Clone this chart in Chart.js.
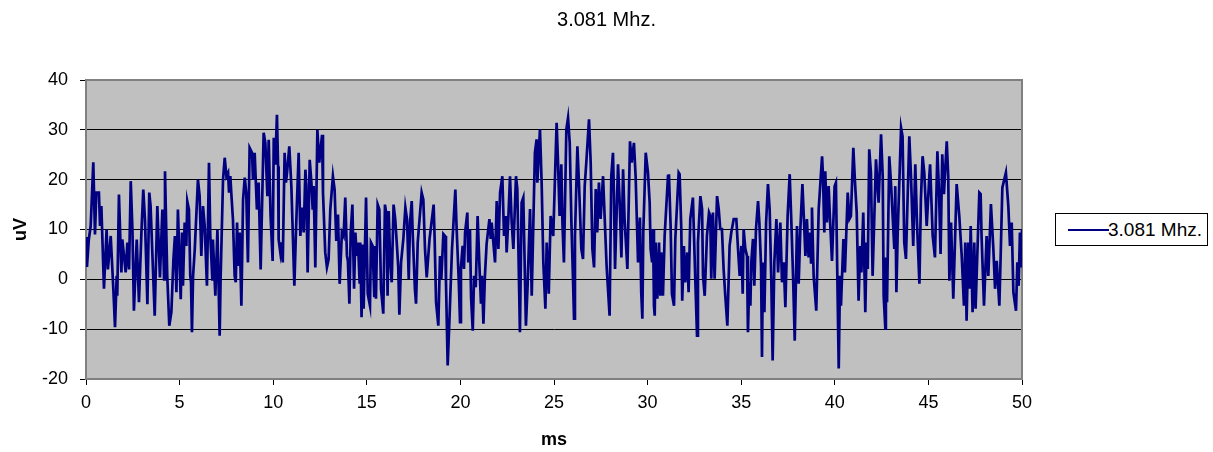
<!DOCTYPE html>
<html>
<head>
<meta charset="utf-8">
<title>3.081 Mhz.</title>
<script src="https://cdn.jsdelivr.net/npm/chart.js@4.4.0/dist/chart.umd.min.js"></script>
<style>
  body { margin: 0; background: #fff; }
  #wrap { position: relative; width: 1213px; height: 452px; font-family: "Liberation Sans", Arial, sans-serif; color: #000; }
  #title { position: absolute; left: 0; top: 8px; width: 1213px; text-align: center; font-size: 20px; }
  #legend { position: absolute; left: 1055px; top: 213px; width: 153px; height: 33px; box-sizing: border-box;
            border: 1px solid #000; background: #fff; font-size: 19px; }
  #legend .swatch { position: absolute; left: 12px; top: 15px; width: 41px; height: 0; border-top: 2.5px solid #000080; }
  #legend .label { position: absolute; left: 52px; top: 5px; white-space: nowrap; }
</style>
</head>
<body>
<div id="wrap">
  <canvas id="chart" width="1213" height="452"></canvas>
  <div id="title">3.081 Mhz.</div>
  <div id="legend"><span class="swatch"></span><span class="label">3.081 Mhz.</span></div>
</div>
<script>
// time axis (ms)
const timeMs = [
  0, 0.05, 0.15, 0.25, 0.39, 0.48, 0.55, 0.69, 0.75, 0.82, 0.96, 1.10, 1.17, 1.32, 1.46, 1.55, 1.64, 1.67, 1.76, 1.89,
  1.94, 2.12, 2.21, 2.30, 2.39, 2.48, 2.56, 2.71, 2.83, 2.96, 3.06, 3.15, 3.28, 3.38, 3.45, 3.67, 3.81, 3.95, 4.08, 4.17,
  4.22, 4.34, 4.45, 4.56, 4.67, 4.75, 4.83, 4.91,
  5.06, 5.13, 5.18, 5.27, 5.36, 5.41, 5.50, 5.57, 5.61, 5.66, 5.72, 5.81, 5.98, 6.07, 6.16, 6.25, 6.34, 6.46, 6.57, 6.64,
  6.75, 6.78, 6.91, 7.02, 7.14, 7.19, 7.32, 7.41, 7.50, 7.59, 7.64, 7.71, 7.76, 7.85, 7.94, 8.00, 8.07, 8.12, 8.21, 8.30,
  8.39, 8.48, 8.56, 8.65, 8.74, 8.87, 8.92, 9.01, 9.13, 9.22, 9.33, 9.49, 9.58, 9.69, 9.76, 9.86, 9.97,
  10.03, 10.11, 10.20, 10.26, 10.29, 10.38, 10.43, 10.51, 10.61, 10.68, 10.74, 10.86, 10.97, 11.04, 11.13, 11.22, 11.36, 11.45, 11.54, 11.63,
  11.72, 11.77, 11.84, 11.95, 12.04, 12.11, 12.16, 12.25, 12.36, 12.46, 12.61, 12.66, 12.78, 12.87, 12.96, 13.05, 13.19, 13.28, 13.37, 13.46,
  13.55, 13.67, 13.76, 13.85, 13.94, 13.99, 14.07, 14.14, 14.23, 14.32, 14.39, 14.46, 14.53, 14.62, 14.65, 14.72, 14.78, 14.83, 14.96,
  15.05, 15.17, 15.22, 15.31, 15.40, 15.46, 15.49, 15.58, 15.67, 15.76, 15.88, 15.97, 16.06, 16.11, 16.17, 16.24, 16.33, 16.43, 16.52, 16.61,
  16.68, 16.74, 16.83, 16.95, 17.06, 17.15, 17.24, 17.31, 17.40, 17.45, 17.57, 17.63, 17.72, 17.93, 18.02, 18.11, 18.20, 18.35, 18.57, 18.62,
  18.70, 18.82, 18.91, 18.98, 19.09, 19.18, 19.23, 19.32, 19.41, 19.55, 19.73, 19.80, 19.91,
  19.98, 20.03, 20.12, 20.19, 20.25, 20.37, 20.42, 20.51, 20.57, 20.66, 20.73, 20.82, 20.92, 21.01, 21.10, 21.15, 21.23, 21.31, 21.40, 21.55,
  21.62, 21.67, 21.85, 21.94, 22.03, 22.12, 22.24, 22.33, 22.42, 22.47, 22.56, 22.65, 22.74, 22.83, 22.97, 23.04, 23.18, 23.27, 23.36, 23.41,
  23.50, 23.59, 23.72, 23.81, 23.98, 24.07, 24.11, 24.25, 24.34, 24.43, 24.54, 24.61, 24.72, 24.82, 24.96,
  25.14, 25.21, 25.30, 25.39, 25.45, 25.53, 25.66, 25.75, 25.84, 25.93, 26.01, 26.07, 26.12, 26.25, 26.34, 26.46, 26.55, 26.64, 26.73, 26.87,
  26.96, 27.05, 27.14, 27.23, 27.31, 27.40, 27.49, 27.62, 27.71, 27.81, 27.97, 28.06, 28.15, 28.20, 28.26, 28.42, 28.51, 28.60, 28.69, 28.77,
  28.92, 29.06, 29.15, 29.27, 29.36, 29.49, 29.59, 29.66, 29.72, 29.77, 29.90, 30.02,
  30.11, 30.16, 30.24, 30.29, 30.34, 30.38, 30.43, 30.52, 30.61, 30.68, 30.73, 30.82, 30.91, 31.09, 31.14, 31.23, 31.30, 31.41, 31.48, 31.66,
  31.71, 31.80, 31.85, 31.94, 32.01, 32.12, 32.19, 32.28, 32.42, 32.51, 32.64, 32.69, 32.82, 32.91, 32.96, 33.05, 33.17, 33.28, 33.35, 33.40,
  33.49, 33.58, 33.71, 33.80, 33.88, 33.97, 34.06, 34.15, 34.26, 34.38, 34.47, 34.60, 34.74, 34.83, 34.92, 35.01,
  35.08, 35.13, 35.22, 35.31, 35.36, 35.43, 35.49, 35.54, 35.63, 35.70, 35.79, 35.90, 35.97, 36.06, 36.11, 36.16, 36.24, 36.33, 36.43, 36.52,
  36.61, 36.68, 36.77, 36.88, 36.97, 37.09, 37.18, 37.27, 37.36, 37.48, 37.59, 37.68, 37.77, 37.86, 37.98, 38.07, 38.16, 38.27, 38.35, 38.43,
  38.51, 38.60, 38.69, 38.73, 38.78, 38.87, 39.01, 39.14, 39.32, 39.37, 39.44, 39.49, 39.58, 39.67, 39.76, 39.85, 39.99,
  40.06, 40.21, 40.28, 40.33, 40.46, 40.54, 40.69, 40.78, 40.86, 40.99, 41.08, 41.17, 41.27, 41.36, 41.42, 41.52, 41.63, 41.70, 41.76, 41.84,
  41.93, 42.02, 42.20, 42.34, 42.47, 42.56, 42.61, 42.70, 42.73, 42.79, 42.91, 43.00, 43.18, 43.23, 43.29, 43.36, 43.54, 43.62, 43.71, 43.80,
  43.98, 44.07, 44.19, 44.30, 44.39, 44.52, 44.60, 44.69, 44.78, 44.91, 45.05,
  45.09, 45.23, 45.35, 45.48, 45.57, 45.65, 45.74, 45.83, 45.98, 46.06, 46.12, 46.21, 46.33, 46.51, 46.65, 46.78, 46.90, 46.97, 47.04, 47.13,
  47.19, 47.26, 47.36, 47.45, 47.52, 47.72, 47.79, 47.84, 47.97, 48.11, 48.20, 48.34, 48.47, 48.56, 48.65, 48.79, 48.86, 48.95, 49.14, 49.27,
  49.36, 49.45, 49.54, 49.68, 49.75, 49.82, 49.89, 49.95, 50.0
];

// measured signal (uV)
const signalUv = [
  8.5, 2.5, 8, 10.7, 23.5, 9, 17.4, 17.4, 10.7, 14.7, -1.9, 10, 2, 8.7, -1.9, -9.6, 0.7, -3.3, 17, 1.4,
  8, 1.4, 7.4, 2, 19.7, 10, -6.3, 8, -4.6, 9.4, 18, 12, -5, 17.4, 14.7, -7.3, 14.7, 0.4, 14, 0,
  21.7, 0.7, -9.3, -6.6, 4, 8.7, -2.6, 14,
  -4, 9.4, -1.3, 11.4, 6.7, 15.7, 14, 0.7, -0.6, -10.6, 0.7, 6, 20, 16.7, 4.7, 14.7, 10.7, -1.3, 23.4, 8.7,
  0, 8, -3.3, 10, -11.3, 0, 20, 24.4, 20.7, 21.4, 17.4, 20.7, 17.4, 12, 0.7, -0.6, 11.4, 2.7, 9.4, -5.3,
  16, 20.4, 17.4, 3.4, 26.4, 25.4, 20, 25.4, 14, 19.4, 2, 29.4, 27.4, 16.7, 28, 12.7, 3.7,
  28.4, 23, 33, 22.7, 8, 5.4, 7.4, 3.4, 25.4, 19.4, 21.4, 26.7, 18.7, 10, -1.3, 10, 25.4, 8.7, 14.4, 9.4,
  22, 18.7, 1.4, 24, 19.4, 14, 18.7, 2.4, 30, 23.4, 29, 17.4, 5.4, 2.4, 4, 14, 20.7, 18, 7.7, 13,
  -0.9, 9.4, 8.7, 16.4, 4.7, 3.7, -4.9, 9.4, 15, -1.9, 9.4, 4.7, 7.4, -0.9, 7.4, -7.6, 7, -5.9, 16.4,
  -2.9, -5.3, 7.4, 6.7, -3.6, 6.7, -3.9, 15, 14, -1.9, -6.9, 15, 12.7, -3.3, 13.7, 4.7, -0.6, 15, 12, 6.7,
  2.4, -7.1, 3.4, 8, 14.4, 12, 0, 11.4, 15.7, 9.4, -1.9, -4.9, 7.4, 17.4, 16, 6, 0.4, 8, 15, 8.7,
  -4.6, -9.3, 4.7, 0, 9.1, 8.7, -0.6, -17.3, -8.6, 6, 18, 10, 0,
  -8.6, 2.4, 6.7, 2.1, 9.4, 13.4, 3.4, 10, -3.6, -10.3, 0.7, -1.6, 12.7, 3.4, -4.9, 0.7, -8.9, 0.7, 7.1, 12.1,
  8.1, 11.4, 3.4, 15.7, 6.1, 17.4, 20.7, 8.7, 12.7, 5.4, 12.1, 20.7, 11.4, 6.1, 20.7, 18.1, -10.6, 15.4, 16.4, 7.4,
  -9.3, -1.3, 14.1, -3.3, 25.4, 28.1, 19.4, 30.1, 19.4, 3.4, -5.9, 7.4, -2.9, 12.7, 8.7,
  31.4, 24.1, 12.7, 23.1, 11.4, 3.4, 30.1, 32.4, 27.4, 11.4, 0.7, -7.9, 8.7, 26.7, 18.7, 6.1, 4.1, 18.7, 23.7, 32.1,
  23.4, 6.1, 2.4, 18.1, 9.4, 19.4, 12.1, 20.7, 12.1, 2.7, -7.3, 20.7, 25.4, 17.4, 2.1, 23.1, 15.4, 4.4, 22.1, 12.1,
  2.1, 27.7, 23.4, 27.4, 20.7, 3.4, 12.4, -2.6, -7.9, 9.4, 25.4, 21.4,
  15.4, 6.1, 3.4, 10.1, -5.3, -7.3, 7.4, -3.9, 7.4, -3.3, 5.4, -3.3, 8.7, 20.7, 21.1, 10.7, -2.9, -5.3, 8.1, 21.4,
  21.1, 10.1, -4.3, 6.7, -0.6, 5.4, -2.6, 12.1, 16.4, 4.7, -11.3, 7.4, 16.7, 14.1, 0.7, -3.3, 8.7, 13.4, 12.7, 0.1,
  13.4, 0.1, 16.7, 14.1, 10.1, 10.1, 2.1, -3.3, -9.3, 6.7, 9.4, 12.1, 12.1, 6.1, 0.7, 6.7,
  -2.9, 10.1, 6.1, 4.7, -10.6, -0.6, -5.3, 3.4, 8.1, -1.3, 10.1, 15.7, 11.4, 2.7, -15.6, 3.4, -6.6, 11.4, 19.1, 14.1,
  -0.6, -16.3, 3.4, 12.1, 1.4, 11.4, -0.6, 3.4, -5.6, 12.7, 21.1, 11.4, 0.7, -12.3, 10.7, -0.9, 10.1, 19.1, 12.1, 4.7,
  12.1, 4.4, 9.4, 3.4, 14.4, 0.7, -6.3, 14.1, 24.7, 20.7, 9.4, 21.7, 11.4, 18.7, 10.7, 3.7, 18.7,
  19.4, -17.9, 0.7, -5.3, 8.1, 1.4, 17.4, 12.1, 12.7, 26.4, 19.4, 13.4, -4.3, 6.7, 1.4, 13.4, -6.6, 7.4, 2.1, 26.1,
  21.4, 0.7, 24.1, 15.4, 29.1, 20.7, -3.3, -9.9, 4.4, -4.6, 24.7, 19.4, 6.1, 18.7, -2.6, 9.4, 30.4, 28.7, 7.4, 4.1,
  28.7, 20.7, 6.7, 23.1, 11.4, -0.9, 16.1, 24.7, 21.4, 10.7, 20.7,
  23.1, 8.7, 4.4, 25.7, 17.4, 5.1, 25.1, 17.1, 27.7, 20.7, -0.3, 11.4, -3.9, 19.1, 12.7, 4.7, -5.3, 7.4, -8.3, 7.4,
  -1.9, 10.7, -6.6, 7.4, -5.9, 17.4, 17.1, 8.7, -5.3, 8.7, 0.7, 15.1, 6.1, -1.9, 3.7, -5.3, 4.7, 18.4, 21.4, 14.7,
  6.7, 11.4, -2.6, -6.3, 3.4, -1.3, 9.4, 2.4, 10.1
];

const seriesName = '3.081 Mhz.';
const yRange = [-20, 40];
const xRange = [0, 50];

const points = timeMs.map((t, i) => ({ x: t, y: signalUv[i] }));

// grey plot background with a frame round it
const plotFrame = {
  id: 'plotFrame',
  beforeDraw(chart) {
    const { ctx, chartArea: a } = chart;
    ctx.save();
    ctx.fillStyle = '#c0c0c0';
    ctx.fillRect(a.left, a.top, a.width, a.height);
    ctx.restore();
  },
  beforeDatasetsDraw(chart) {
    const { ctx, chartArea: a } = chart;
    ctx.save();
    ctx.strokeStyle = '#808080';
    ctx.lineWidth = 2;
    ctx.strokeRect(a.left, a.top, a.width, a.height);
    ctx.restore();
  }
};

const axisFont = { family: '"Liberation Sans", Arial, sans-serif', size: 18 };

new Chart(document.getElementById('chart'), {
  type: 'line',
  data: {
    datasets: [{
      label: seriesName,
      data: points,
      borderColor: '#000080',
      borderWidth: 2.7,
      pointRadius: 0,
      tension: 0,
      fill: false
    }]
  },
  options: {
    responsive: false,
    animation: false,
    layout: { padding: { left: 0, right: 191, top: 80, bottom: 0 } },
    plugins: {
      legend: { display: false },
      tooltip: { enabled: false }
    },
    scales: {
      x: {
        type: 'linear',
        min: xRange[0],
        max: xRange[1],
        ticks: { stepSize: 5, padding: 7, color: '#000', font: axisFont, maxRotation: 0 },
        grid: { drawOnChartArea: false, tickLength: 6, tickColor: '#000' },
        border: { color: '#404040', width: 1 },
        title: { display: true, text: 'ms', color: '#000', font: { ...axisFont, weight: 'bold' }, padding: { top: 0, bottom: 1 } },
        afterFit(scale) { scale.height = 73; }
      },
      y: {
        min: yRange[0],
        max: yRange[1],
        ticks: { stepSize: 10, padding: 12, color: '#000', font: axisFont },
        grid: { color: '#000', lineWidth: 1, tickLength: 6, tickColor: '#000' },
        border: { color: '#404040', width: 1 },
        title: { display: true, text: 'uV', color: '#000', font: { ...axisFont, weight: 'bold' }, padding: { top: 10, bottom: 0 } },
        afterFit(scale) { scale.width = 86; }
      }
    }
  },
  plugins: [plotFrame]
});
</script>
</body>
</html>
